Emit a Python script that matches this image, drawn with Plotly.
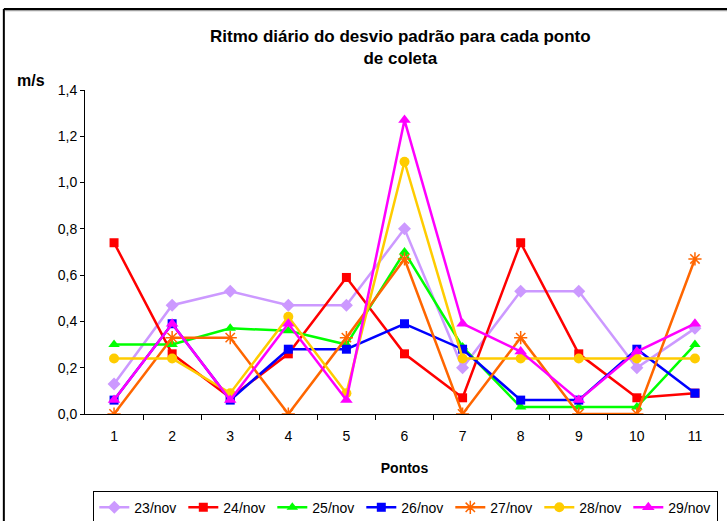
import plotly.graph_objects as go

# Collection points along the x axis
pontos = [1, 2, 3, 4, 5, 6, 7, 8, 9, 10, 11]
ponto_labels = [str(p) for p in pontos]

# Daily standard deviation of wind speed (m/s) for each collection point
nov23 = [0.13, 0.47, 0.53, 0.47, 0.47, 0.80, 0.20, 0.53, 0.53, 0.20, 0.37]
nov24 = [0.74, 0.26, 0.07, 0.26, 0.59, 0.26, 0.07, 0.74, 0.26, 0.07, 0.09]
nov25 = [0.30, 0.30, 0.37, 0.36, 0.30, 0.70, 0.29, 0.03, 0.03, 0.03, 0.30]
nov26 = [0.06, 0.39, 0.06, 0.28, 0.28, 0.39, 0.28, 0.06, 0.06, 0.28, 0.09]
nov27 = [0.00, 0.33, 0.33, 0.00, 0.33, 0.67, 0.00, 0.33, 0.00, 0.00, 0.67]
nov28 = [0.24, 0.24, 0.09, 0.42, 0.09, 1.09, 0.24, 0.24, 0.24, 0.24, 0.24]
nov29 = [0.06, 0.39, 0.06, 0.39, 0.06, 1.27, 0.39, 0.27, 0.06, 0.27, 0.39]

y_ticks = [0.0, 0.2, 0.4, 0.6, 0.8, 1.0, 1.2, 1.4]

series = [
    ("23/nov", nov23, "#CC99FF", "diamond", 10),
    ("24/nov", nov24, "#FF0000", "square", 9),
    ("25/nov", nov25, "#00FF00", "triangle-up", 10),
    ("26/nov", nov26, "#0000FF", "square", 9),
    ("27/nov", nov27, "#FF6600", "asterisk-open", 11),
    ("28/nov", nov28, "#FFCC00", "circle", 10),
    ("29/nov", nov29, "#FF00FF", "triangle-up", 11),
]

fig = go.Figure()
for name, vals, color, symbol, size in series:
    marker = dict(symbol=symbol, size=size, color=color)
    if symbol == "asterisk-open":
        marker["line"] = dict(color=color, width=1.5)
    else:
        marker["line"] = dict(width=0)
    fig.add_trace(go.Scatter(
        x=pontos, y=vals, name=name, mode="lines+markers",
        line=dict(color=color, width=2.5),
        marker=marker,
    ))

font_family = "Liberation Sans, Arial, sans-serif"

fig.update_layout(
    width=727, height=521,
    margin=dict(l=85, r=3, t=90, b=107, autoexpand=False),
    paper_bgcolor="white", plot_bgcolor="white",
    separators=",.",
    font=dict(family=font_family, size=14, color="black"),
    showlegend=True,
    legend=dict(
        orientation="h",
        x=0.013, y=-0.2367, xanchor="left", yanchor="top",
        bordercolor="black", borderwidth=1,
        font=dict(size=14, color="black"),
        itemwidth=30, tracegroupgap=0,
        entrywidth=44, entrywidthmode="pixels",
    ),
    xaxis=dict(
        range=[0.5, 11.5], tickmode="array", tickvals=pontos, ticktext=ponto_labels,
        showgrid=False, zeroline=False, showline=True, linecolor="black", linewidth=1,
        ticks="", tickfont=dict(size=14), ticklabelstandoff=9,
        title=dict(text="<b>Pontos</b>", font=dict(size=14), standoff=20),
        minor=dict(tickvals=[p + 0.5 for p in pontos[:-1]], ticks="outside",
                   ticklen=5, tickcolor="black", showgrid=False),
    ),
    yaxis=dict(
        range=[0, 1.4], tickmode="array", tickvals=y_ticks, tickformat=".1f",
        showgrid=False, zeroline=False, showline=True, linecolor="black", linewidth=1,
        ticks="outside", ticklen=4, tickcolor="black", tickfont=dict(size=14),
    ),
    annotations=[
        dict(text="<b>Ritmo diário do desvio padrão para cada ponto<br>de coleta</b>",
             xref="paper", yref="paper", x=0.493, y=1.13, xanchor="center", yanchor="middle",
             showarrow=False, font=dict(size=17), align="center"),
        dict(text="<b>m/s</b>", xref="paper", yref="paper", x=-0.085, y=1.03,
             xanchor="center", yanchor="middle", showarrow=False, font=dict(size=16)),
    ],
    shapes=[
        # chart frame: shadow then frame line
        dict(type="line", xref="paper", yref="paper", x0=-0.125, x1=1.1, y0=1.246, y1=1.246,
             line=dict(color="#A0A0A0", width=2)),
        dict(type="line", xref="paper", yref="paper", x0=-0.127, x1=1.1, y0=1.25, y1=1.25,
             line=dict(color="black", width=2)),
        dict(type="line", xref="paper", yref="paper", x0=-0.127, x1=-0.127, y0=1.25, y1=-0.4,
             line=dict(color="black", width=2)),
    ],
)

fig.write_html("out.html")
